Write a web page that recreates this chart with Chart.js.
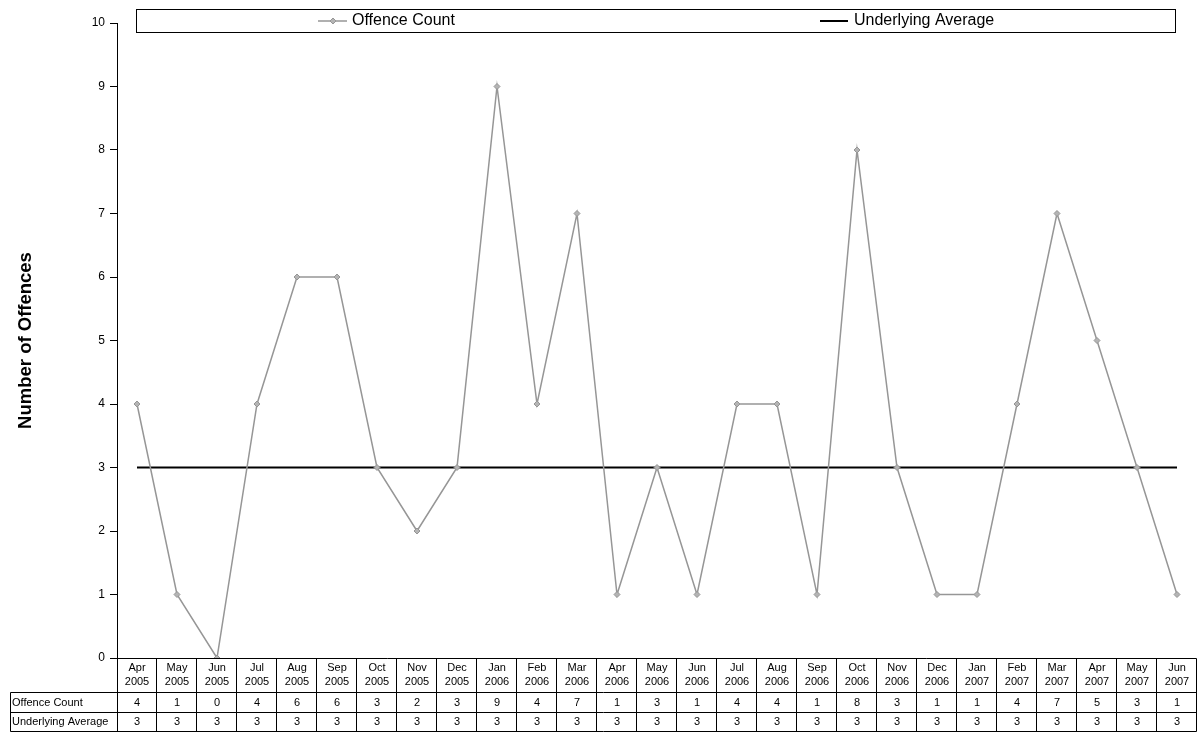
<!DOCTYPE html>
<html>
<head>
<meta charset="utf-8">
<script src="https://cdn.jsdelivr.net/npm/chart.js@4/dist/chart.umd.min.js"></script>
<style>
html,body{margin:0;padding:0;background:#fff;}
#wrap{width:1198px;height:733px;}
</style>
</head>
<body>
<div id="wrap"><canvas id="c" width="1198" height="733"></canvas></div>
<script>
const categories = ['Apr 2005','May 2005','Jun 2005','Jul 2005','Aug 2005','Sep 2005','Oct 2005','Nov 2005','Dec 2005',
  'Jan 2006','Feb 2006','Mar 2006','Apr 2006','May 2006','Jun 2006','Jul 2006','Aug 2006','Sep 2006','Oct 2006','Nov 2006','Dec 2006',
  'Jan 2007','Feb 2007','Mar 2007','Apr 2007','May 2007','Jun 2007'];
const offenceCount = [4,1,0,4,6,6,3,2,3,9,4,7,1,3,1,4,4,1,8,3,1,1,4,7,5,3,1];
const underlyingAverage = [3,3,3,3,3,3,3,3,3,3,3,3,3,3,3,3,3,3,3,3,3,3,3,3,3,3,3];
const yTicks = [0,1,2,3,4,5,6,7,8,9,10];
const seriesNames = ['Offence Count','Underlying Average'];

const FONT = "'Liberation Sans', Arial, sans-serif";
Chart.defaults.font.family = FONT;
Chart.defaults.color = '#000';

const bgPlugin = {
  id: 'bg',
  beforeDraw(chart) {
    const ctx = chart.ctx;
    ctx.save();
    ctx.fillStyle = '#fff';
    ctx.fillRect(0, 0, chart.width, chart.height);
    ctx.restore();
  }
};

const tablePlugin = {
  id: 'dataTable',
  afterDraw(chart) {
    const ctx = chart.ctx;
    const xs = chart.scales.x;
    const area = chart.chartArea;
    const n = categories.length;
    const half = (xs.getPixelForValue(1) - xs.getPixelForValue(0)) / 2;
    const top = Math.round(area.bottom) + 0.5;
    const r1 = 692.5, r2 = 712.5, bot = 731.5;
    const leftEdge = 10.5;
    const axisX = Math.round(area.left) + 0.5;
    const rightX = Math.round(xs.getPixelForValue(n - 1) + half) - 0.5;
    ctx.save();
    ctx.strokeStyle = '#000';
    ctx.lineWidth = 1;
    ctx.beginPath();
    ctx.moveTo(axisX, top); ctx.lineTo(rightX, top);
    ctx.moveTo(leftEdge, r1); ctx.lineTo(rightX, r1);
    ctx.moveTo(leftEdge, r2); ctx.lineTo(rightX, r2);
    ctx.moveTo(leftEdge, bot); ctx.lineTo(rightX, bot);
    ctx.moveTo(leftEdge, r1); ctx.lineTo(leftEdge, bot);
    ctx.moveTo(axisX, top); ctx.lineTo(axisX, bot);
    for (let i = 0; i < n; i++) {
      const xr = Math.round(xs.getPixelForValue(i) + half) - 0.5;
      ctx.moveTo(xr, top); ctx.lineTo(xr, bot);
    }
    ctx.stroke();

    ctx.fillStyle = '#000';
    ctx.font = '11px ' + FONT;
    ctx.textBaseline = 'middle';
    ctx.textAlign = 'center';
    for (let i = 0; i < n; i++) {
      const cx = xs.getPixelForValue(i);
      const parts = categories[i].split(' ');
      ctx.fillText(parts[0], cx, 668);
      ctx.fillText(parts[1], cx, 682);
      ctx.fillText(String(offenceCount[i]), cx, 702.5);
      ctx.fillText(String(underlyingAverage[i]), cx, 722);
    }
    ctx.textAlign = 'left';
    ctx.fillText(seriesNames[0], 12, 702.5);
    ctx.fillText(seriesNames[1], 12, 722);

    // legend
    ctx.fillStyle = '#fff';
    ctx.fillRect(136, 9, 1039, 23);
    ctx.strokeRect(136.5, 9.5, 1039, 23);
    const ly = 21;
    ctx.strokeStyle = '#969696';
    ctx.lineWidth = 1.5;
    ctx.beginPath(); ctx.moveTo(318, ly); ctx.lineTo(347, ly); ctx.stroke();
    ctx.fillStyle = '#b4b4b4';
    ctx.lineWidth = 1;
    ctx.beginPath();
    ctx.moveTo(333, ly - 3); ctx.lineTo(336, ly); ctx.lineTo(333, ly + 3); ctx.lineTo(330, ly); ctx.closePath();
    ctx.fill(); ctx.stroke();
    ctx.strokeStyle = '#000';
    ctx.lineWidth = 2;
    ctx.beginPath(); ctx.moveTo(820, ly); ctx.lineTo(848, ly); ctx.stroke();
    ctx.fillStyle = '#000';
    ctx.font = '16px ' + FONT;
    ctx.textAlign = 'left';
    ctx.fillText(seriesNames[0], 352, ly);
    ctx.fillText(seriesNames[1], 854, ly);
    ctx.restore();
  }
};

new Chart(document.getElementById('c'), {
  type: 'line',
  data: {
    labels: categories,
    datasets: [
      {
        label: seriesNames[0],
        data: offenceCount,
        borderColor: '#969696',
        borderWidth: 1.5,
        backgroundColor: '#b4b4b4',
        pointStyle: 'rectRot',
        pointRadius: 3,
        pointBorderColor: '#969696',
        pointBackgroundColor: '#b4b4b4',
        pointBorderWidth: 1,
        tension: 0,
        order: 1
      },
      {
        label: seriesNames[1],
        data: underlyingAverage,
        borderColor: '#000',
        borderWidth: 2,
        pointRadius: 0,
        tension: 0,
        order: 2
      }
    ]
  },
  options: {
    responsive: false,
    animation: false,
    devicePixelRatio: 1,
    layout: { autoPadding: false, padding: { top: 23, bottom: 75, left: 0, right: 1 } },
    plugins: {
      legend: { display: false },
      tooltip: { enabled: false }
    },
    scales: {
      x: {
        type: 'category',
        offset: true,
        display: false
      },
      y: {
        min: 0,
        max: 10,
        afterBuildTicks(scale) { scale.ticks = yTicks.map(v => ({ value: v })); },
        afterFit(scale) { scale.width = 117; },
        border: { display: true, color: '#000', width: 1 },
        grid: { drawOnChartArea: false, drawTicks: true, tickLength: 7, color: '#000' },
        ticks: { color: '#000', font: { size: 12 }, padding: 5 },
        title: {
          display: true,
          text: 'Number of Offences',
          color: '#000',
          font: { size: 18.5, weight: 'bold' },
          padding: { top: 15, bottom: 0 }
        }
      }
    }
  },
  plugins: [bgPlugin, tablePlugin]
});
</script>
</body>
</html>
